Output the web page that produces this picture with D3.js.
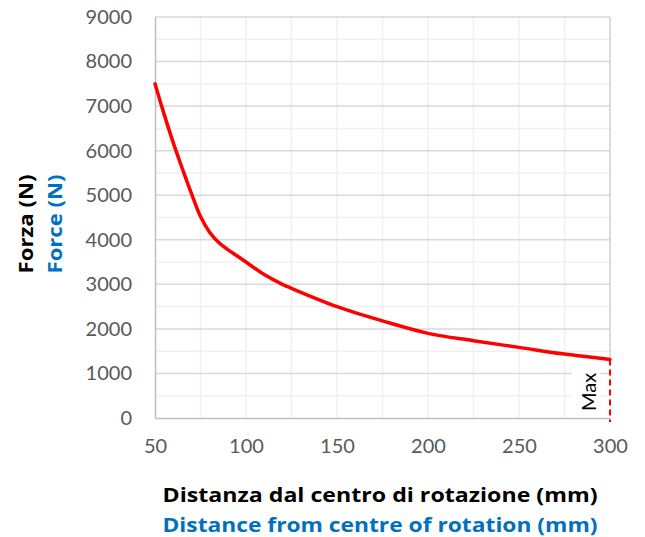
<!DOCTYPE html>
<html>
<head>
<meta charset="utf-8">
<script src="https://cdn.jsdelivr.net/npm/d3@7"></script>
<style>
  body { margin: 0; background: #fff; }
  svg { display: block; }
  .tick text { font-family: Lato, "Open Sans", sans-serif; font-size: 20px; fill: #595959; }
  .title { font-family: "Open Sans", sans-serif; font-weight: 700; }
</style>
</head>
<body>
<div id="chart"></div>
<script>
// distance from centre of rotation (mm) and force (N)
const distance = [50, 55, 60, 65, 70, 75, 80, 85, 90, 95, 100, 110, 120, 125, 150, 175, 200, 225, 250, 275, 300];
const force = [7500, 6820, 6180, 5600, 5040, 4520, 4170, 3940, 3780, 3640, 3500, 3220, 3000, 2910, 2500, 2180, 1900, 1735, 1585, 1435, 1315];

const xTicks = [50, 100, 150, 200, 250, 300];
const yTicks = [0, 1000, 2000, 3000, 4000, 5000, 6000, 7000, 8000, 9000];
const xMinor = [75, 100, 125, 150, 175, 200, 225, 250, 275];
const yMinor = [500, 1500, 2500, 3500, 4500, 5500, 6500, 7500, 8500];

const width = 645, height = 537;
const svg = d3.select("#chart").append("svg")
    .attr("width", width)
    .attr("height", height);

let x = d3.scaleLinear().domain([50, 300]).range([155, 610]);
let y = d3.scaleLinear().domain([0, 9000]).range([418, 17]);

// minor gridlines
svg.append("g").selectAll("line")
    .data(yMinor).enter().append("line")
    .attr("x1", x(50)).attr("x2", x(300))
    .attr("y1", d => y(d)).attr("y2", d => y(d))
    .attr("stroke", "#f0f0f0").attr("stroke-width", 1.5);

svg.append("g").selectAll("line")
    .data(xMinor).enter().append("line")
    .attr("x1", d => x(d)).attr("x2", d => x(d))
    .attr("y1", y(0)).attr("y2", y(9000))
    .attr("stroke", "#f0f0f0").attr("stroke-width", 1.5);

// major gridlines
svg.append("g").selectAll("line")
    .data(yTicks.slice(1)).enter().append("line")
    .attr("x1", x(50)).attr("x2", x(300))
    .attr("y1", d => y(d)).attr("y2", d => y(d))
    .attr("stroke", "#d9d9d9").attr("stroke-width", 1.5);

// right edge down to the end of the curve
svg.append("line")
    .attr("x1", x(300)).attr("x2", x(300))
    .attr("y1", y(9000)).attr("y2", y(force[force.length - 1]))
    .attr("stroke", "#cfcfcf").attr("stroke-width", 1.5);

// axes
let xAxis = svg.append("g")
    .attr("transform", `translate(0,${y(0)})`)
    .call(d3.axisBottom(x).tickValues(xTicks).tickSize(0).tickPadding(21).tickFormat(d3.format("d")));
xAxis.select(".domain").attr("stroke", "#bfbfbf").attr("stroke-width", 1.5);

let yAxis = svg.append("g")
    .attr("transform", `translate(${x(50)},0)`)
    .call(d3.axisLeft(y).tickValues(yTicks).tickSize(0).tickPadding(23).tickFormat(d3.format("d")));
yAxis.select(".domain").attr("stroke", "#bfbfbf").attr("stroke-width", 1.5);

// Max marker
let maxLabel = svg.append("g");
maxLabel.append("rect")
    .attr("x", x(300) - 38).attr("y", y(1050))
    .attr("width", 28).attr("height", y(0) - y(1050) - 1)
    .attr("fill", "#fff");
maxLabel.append("text")
    .attr("transform", `translate(${x(300) - 19},${y(0) - 26}) rotate(-90)`)
    .attr("text-anchor", "middle")
    .attr("dominant-baseline", "middle")
    .style("font-family", "Lato, sans-serif")
    .style("font-size", "20px")
    .attr("fill", "#000")
    .text("Max");

svg.append("line")
    .attr("x1", x(300)).attr("x2", x(300))
    .attr("y1", y(force[force.length - 1])).attr("y2", y(0) + 4)
    .attr("stroke", "#ff0000").attr("stroke-width", 2)
    .attr("stroke-dasharray", "6,4");

// curve
let line = d3.line()
    .x((d, i) => x(distance[i]))
    .y(d => y(d))
    .curve(d3.curveCatmullRom);

svg.append("path")
    .datum(force)
    .attr("d", line)
    .attr("fill", "none")
    .attr("stroke", "#ff0000")
    .attr("stroke-width", 3.5)
    .attr("stroke-linecap", "round");

// axis titles
svg.append("text").classed("title", true)
    .attr("x", 380).attr("y", 502)
    .attr("text-anchor", "middle")
    .attr("textLength", 435).attr("lengthAdjust", "spacingAndGlyphs")
    .style("font-size", "20px")
    .attr("fill", "#000")
    .text("Distanza dal centro di rotazione (mm)");

svg.append("text").classed("title", true)
    .attr("x", 380).attr("y", 532)
    .attr("text-anchor", "middle")
    .attr("textLength", 435).attr("lengthAdjust", "spacingAndGlyphs")
    .style("font-size", "20px")
    .attr("fill", "#0070c0")
    .text("Distance from centre of rotation (mm)");

svg.append("text").classed("title", true)
    .attr("transform", "translate(33,224) rotate(-90)")
    .attr("text-anchor", "middle")
    .attr("textLength", 99).attr("lengthAdjust", "spacingAndGlyphs")
    .style("font-size", "20px")
    .attr("fill", "#000")
    .text("Forza (N)");

svg.append("text").classed("title", true)
    .attr("transform", "translate(62,224) rotate(-90)")
    .attr("text-anchor", "middle")
    .attr("textLength", 99).attr("lengthAdjust", "spacingAndGlyphs")
    .style("font-size", "20px")
    .attr("fill", "#0070c0")
    .text("Force (N)");
</script>
</body>
</html>
